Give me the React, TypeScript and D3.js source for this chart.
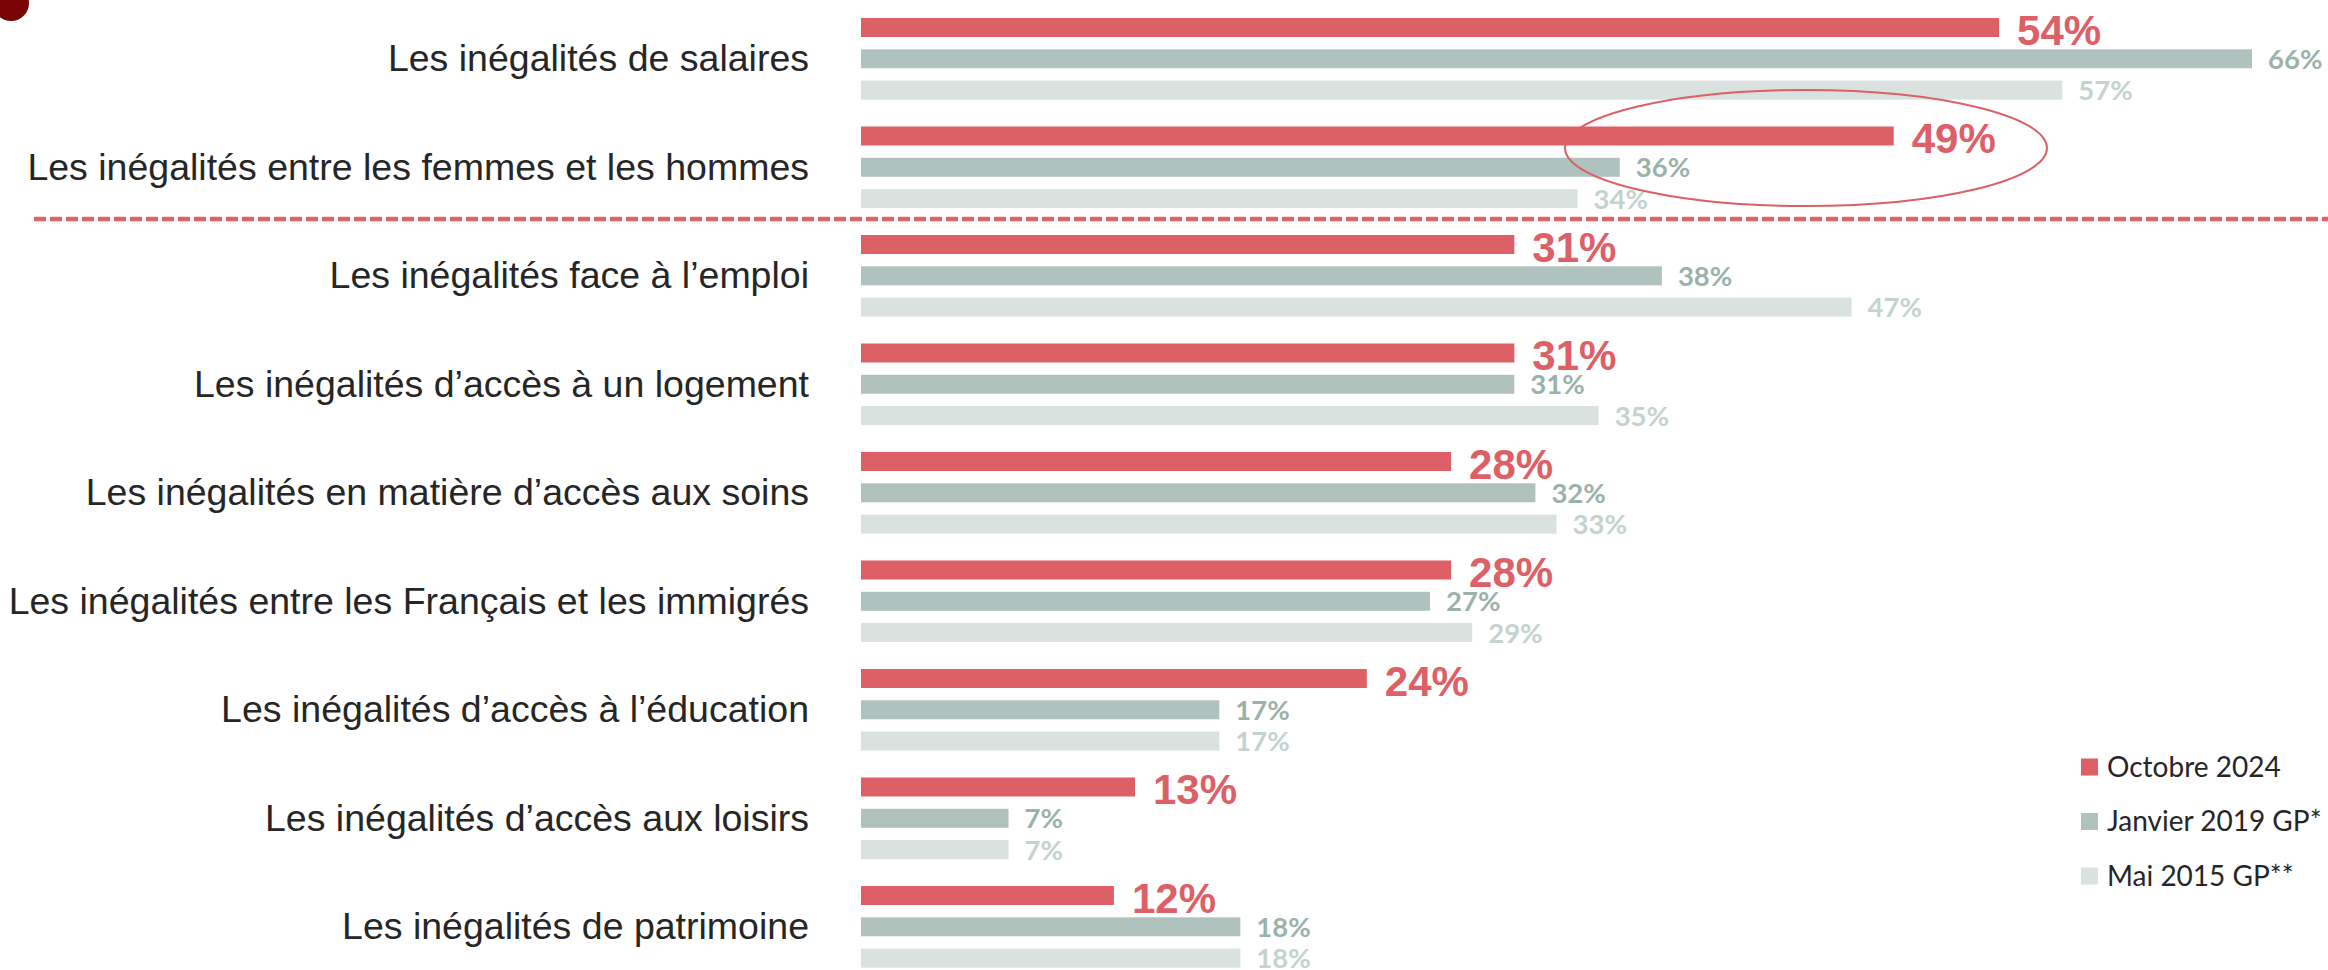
import React from "react";
import * as d3 from "d3";

// données
const categories = [
  "Les inégalités de salaires",
  "Les inégalités entre les femmes et les hommes",
  "Les inégalités face à l’emploi",
  "Les inégalités d’accès à un logement",
  "Les inégalités en matière d’accès aux soins",
  "Les inégalités entre les Français et les immigrés",
  "Les inégalités d’accès à l’éducation",
  "Les inégalités d’accès aux loisirs",
  "Les inégalités de patrimoine",
];
const seriesNames = ["Octobre 2024", "Janvier 2019 GP*", "Mai 2015 GP**"];
const oct2024 = [54, 49, 31, 31, 28, 28, 24, 13, 12];
const jan2019 = [66, 36, 38, 31, 32, 27, 17, 7, 18];
const mai2015 = [57, 34, 47, 35, 33, 29, 17, 7, 18];

const W = 2328;
const H = 970;
const barColors = ["#dc6066", "#afc2bd", "#d9e2df"];
const labelColors = ["#dc6066", "#9bb2aa", "#c4d3ce"];

export default function App() {
  const series = [oct2024, jan2019, mai2015];

  const x = d3.scaleLinear().domain([0, 66]).range([861, 2252]);
  const y0 = d3
    .scaleBand<string>()
    .domain(categories)
    .range([18, 18 + categories.length * 108.5]);
  const y1 = d3
    .scaleBand<string>()
    .domain(seriesNames)
    .range([0, 3 * 31.3]);
  const barH = 19;

  const legendY = d3
    .scalePoint<string>()
    .domain(seriesNames)
    .range([767, 876]);

  return (
    <svg
      width={W}
      height={H}
      style={{ position: "absolute", left: 0, top: 0, background: "#fff" }}
    >
      <circle cx={11} cy={3} r={18} fill="#7a0505" />

      {categories.map((cat, i) => {
        const gy = y0(cat) as number;
        return (
          <g key={cat}>
            <text
              x={809}
              y={gy + (y1(seriesNames[1]) as number) + barH / 2 + 12.5}
              textAnchor="end"
              fontFamily="'Liberation Sans', Arial, sans-serif"
              fontSize={37.5}
              fill="#262626"
            >
              {cat}
            </text>
            {series.map((vals, s) => {
              const by = gy + (y1(seriesNames[s]) as number);
              const v = vals[i];
              const cy = by + barH / 2;
              return (
                <g key={s}>
                  <rect
                    x={x(0)}
                    y={by}
                    width={x(v) - x(0)}
                    height={barH}
                    fill={barColors[s]}
                  />
                  {s === 0 ? (
                    <text
                      x={x(v) + 18}
                      y={cy + 17}
                      fontFamily="'Liberation Sans', Arial, sans-serif"
                      fontWeight="bold"
                      fontSize={42}
                      fill={labelColors[s]}
                    >
                      {v}%
                    </text>
                  ) : (
                    <text
                      x={x(v) + 16}
                      y={cy + 10}
                      fontFamily="Lato, 'Open Sans', sans-serif"
                      fontWeight="bold"
                      fontSize={27.5}
                      fill={labelColors[s]}
                    >
                      {v}%
                    </text>
                  )}
                </g>
              );
            })}
          </g>
        );
      })}

      {/* séparation entre les deux premiers items et le reste */}
      <line
        x1={34}
        x2={W}
        y1={219}
        y2={219}
        stroke="#dc6066"
        strokeWidth={4.5}
        strokeDasharray="12 4"
      />

      {/* mise en avant femmes / hommes */}
      <ellipse
        cx={1806}
        cy={148}
        rx={241}
        ry={58}
        fill="none"
        stroke="#dc6066"
        strokeWidth={2}
      />

      {seriesNames.map((name, s) => {
        const ly = legendY(name) as number;
        return (
          <g key={name}>
            <rect x={2081} y={ly - 8.5} width={17} height={17} fill={barColors[s]} />
            <text
              x={2107}
              y={ly + 9.5}
              fontFamily="Lato, 'Open Sans', sans-serif"
              fontSize={28}
              fill="#262626"
            >
              {name}
            </text>
          </g>
        );
      })}
    </svg>
  );
}
